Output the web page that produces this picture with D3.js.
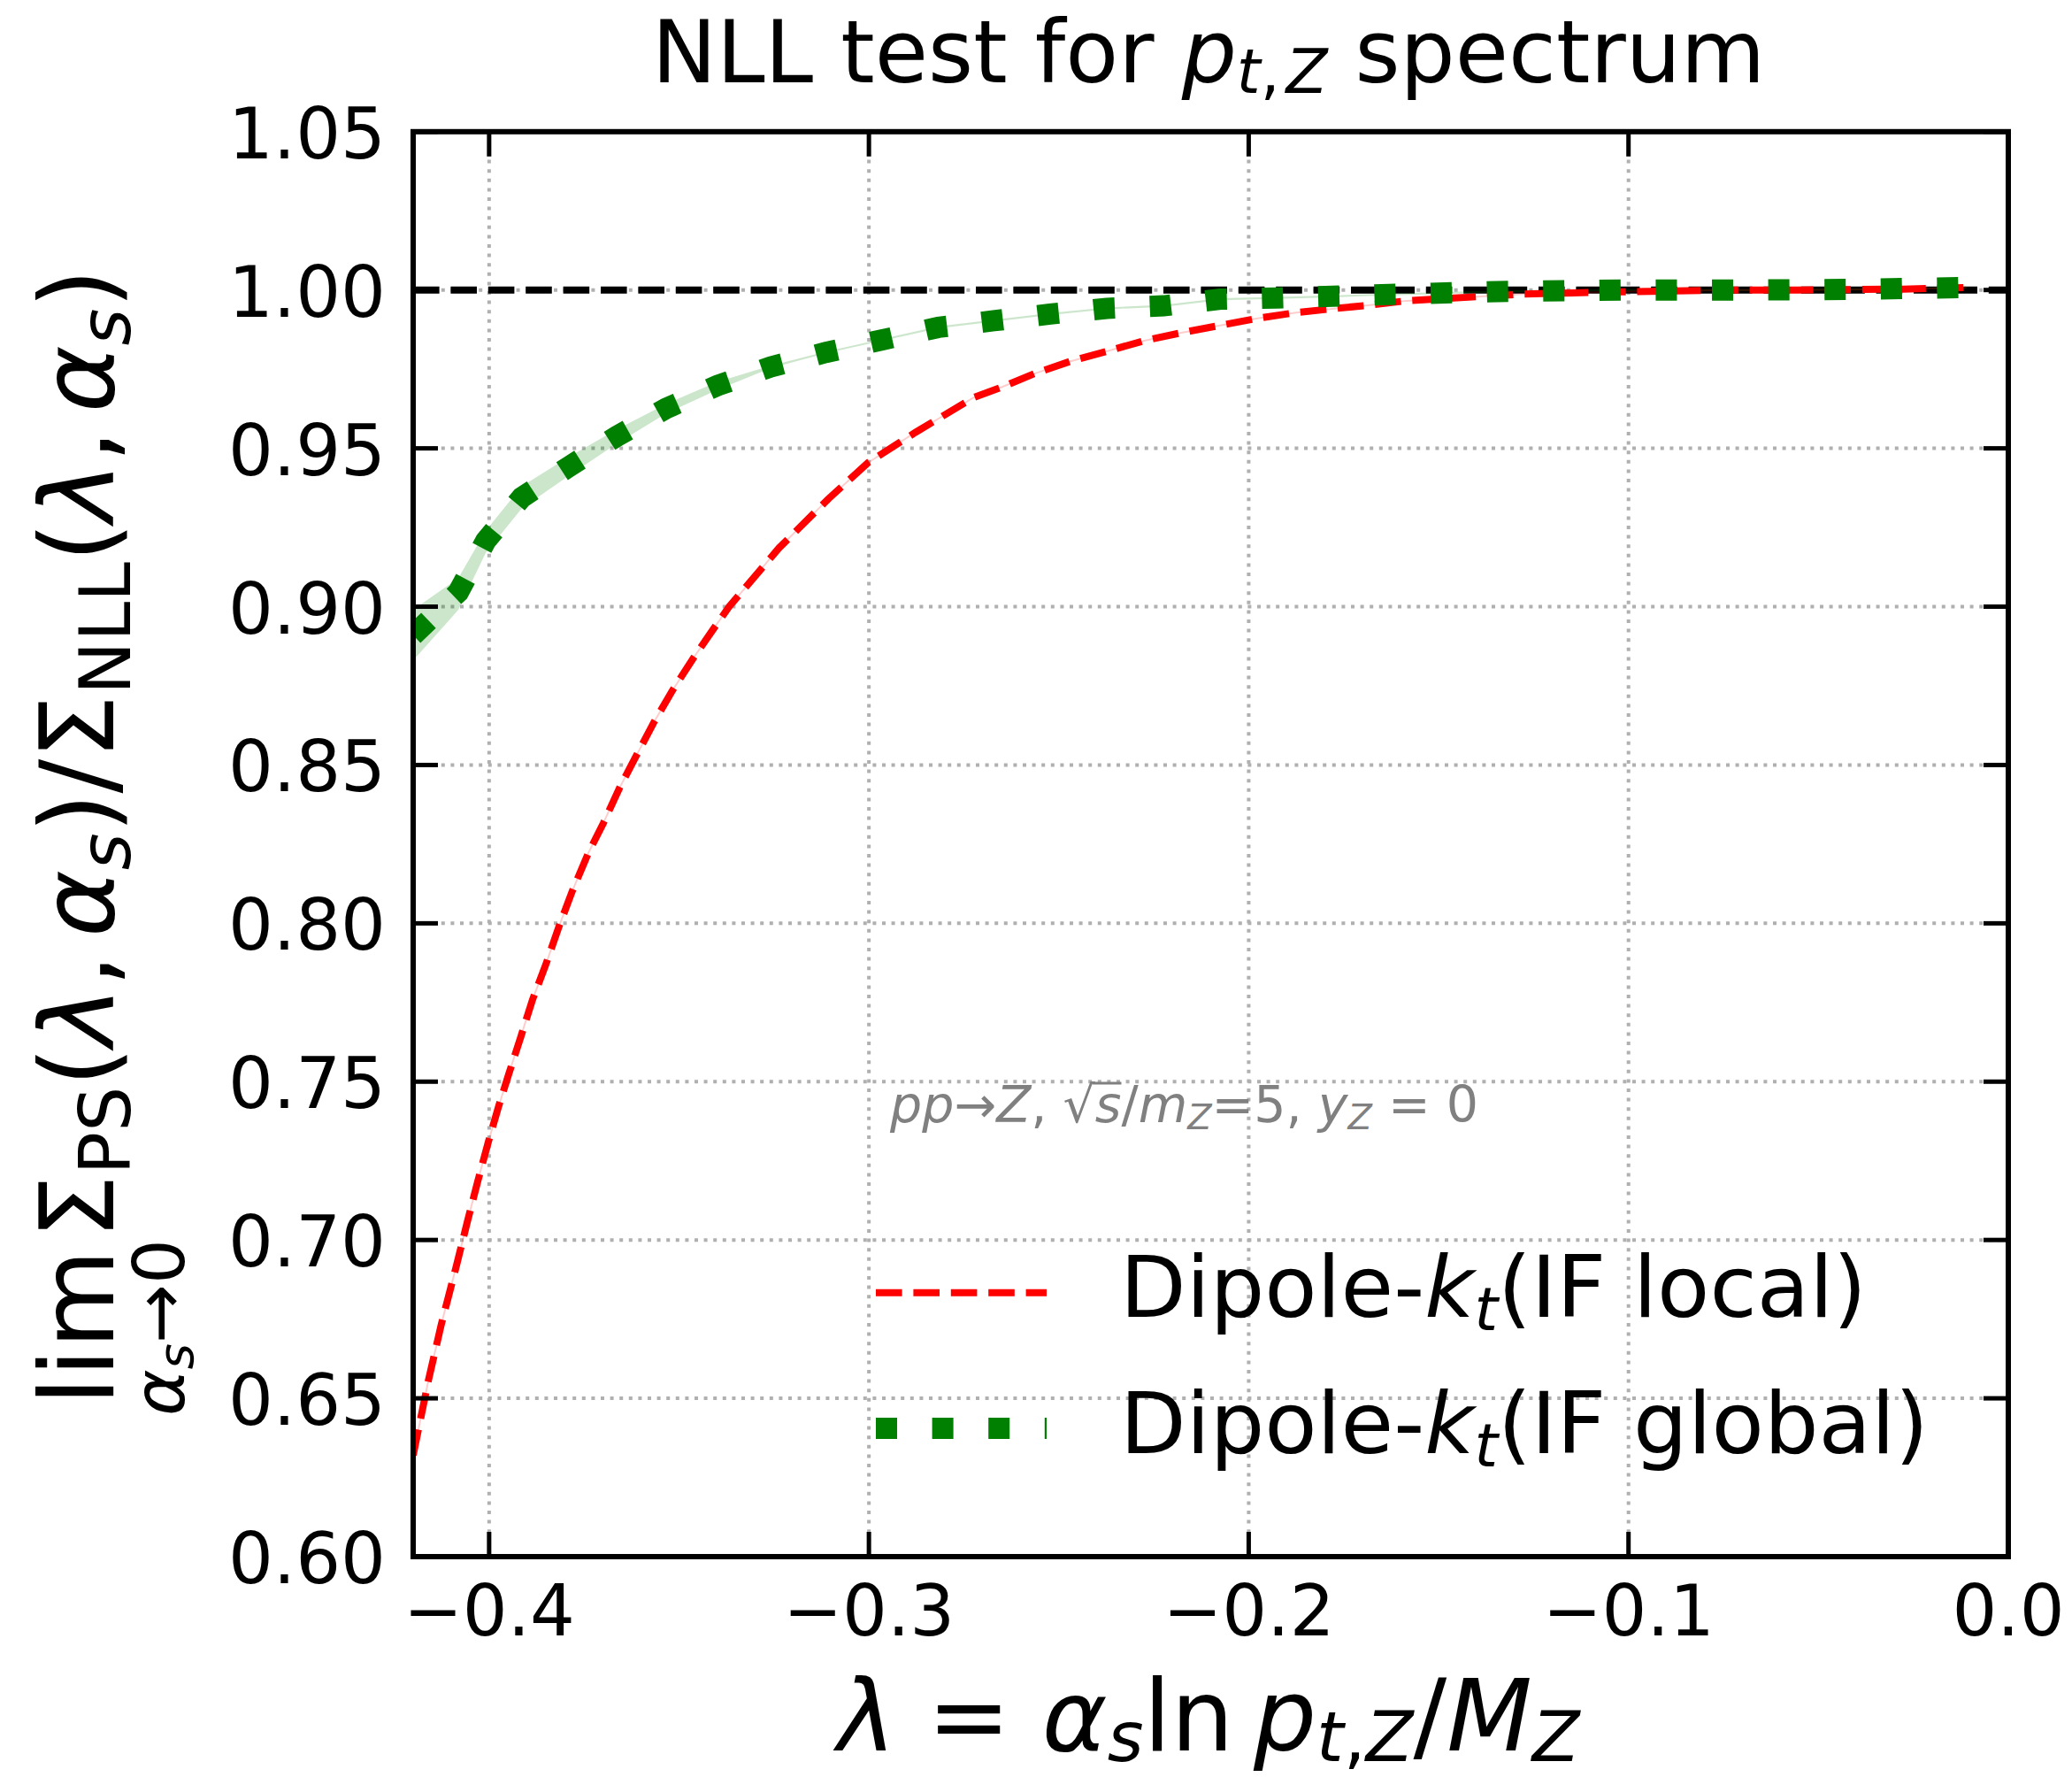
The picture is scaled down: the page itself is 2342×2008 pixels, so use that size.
<!DOCTYPE html>
<html>
<head>
<meta charset="utf-8">
<script src="https://cdn.jsdelivr.net/npm/d3@7"></script>
<style>
  body { margin: 0; background: #fff; }
  svg text { font-family: "DejaVu Sans", sans-serif; white-space: pre; }
</style>
</head>
<body>
<div id="chart"></div>
<script>
// NLL test for pt,Z spectrum - ratio PS / NLL vs lambda
const W = 2342, H = 2008;
const axL = 467, axR = 2270, axT = 148.8, axB = 1759;

// Dipole-kt (IF local)
const lambdaRed = [-0.42, -0.416, -0.4126, -0.4088, -0.4057, -0.403, -0.4002, -0.3975, -0.3948, -0.3917,
  -0.3886, -0.3851, -0.3816, -0.3781, -0.3738, -0.3699, -0.3656, -0.3614, -0.3567, -0.3517,
  -0.3462, -0.3408, -0.3368, -0.3237, -0.3107, -0.3002, -0.2878, -0.2725, -0.2655, -0.2562,
  -0.2469, -0.2372, -0.2275, -0.2177, -0.2081, -0.198, -0.1879, -0.1786, -0.1685, -0.1584,
  -0.128, -0.1041, -0.0879, -0.0736, -0.0583, -0.044, -0.0277, -0.011];
const sigmaRed = [0.632, 0.6556, 0.6733, 0.691, 0.7059, 0.7185, 0.731, 0.7422, 0.7525, 0.764,
  0.7758, 0.7869, 0.799, 0.8102, 0.8224, 0.8317, 0.8429, 0.8526, 0.8633, 0.8736,
  0.8838, 0.8932, 0.900, 0.9185, 0.934, 0.9455, 0.955, 0.966, 0.9691, 0.9737,
  0.9775, 0.9807, 0.984, 0.9865, 0.9887, 0.991, 0.9928, 0.994, 0.9952, 0.9966,
  0.9987, 0.9994, 0.9997, 1.0, 1.0, 1.0001, 1.0003, 1.0008];

// Dipole-kt (IF global) with its band
const lambdaGreen = [-0.42, -0.4081, -0.4009, -0.3914, -0.3794, -0.3664, -0.3534, -0.3399, -0.3259, -0.3113,
  -0.2967, -0.2817, -0.2671, -0.2523, -0.2374, -0.2224, -0.2075, -0.1927, -0.1779, -0.163,
  -0.1318, -0.1, -0.07, -0.04, -0.011];
const sigmaGreen = [0.891, 0.9046, 0.9208, 0.9345, 0.9439, 0.9538, 0.9626, 0.9698, 0.9757, 0.9803,
  0.9842, 0.9882, 0.9903, 0.9924, 0.9942, 0.995, 0.9971, 0.9975, 0.998, 0.9986,
  0.9996, 1.0, 1.0, 1.0002, 1.0008];
const greenLo = [0.883, 0.899, 0.917, 0.931, 0.941, 0.9515, 0.961, 0.9685, 0.9753, 0.98,
  0.9839, 0.9879, 0.99, 0.9921, 0.9939, 0.9947, 0.9968, 0.9972, 0.9977, 0.9983,
  0.9993, 0.9997, 0.9997, 0.9999, 1.0005];
const greenHi = [0.899, 0.909, 0.924, 0.938, 0.947, 0.956, 0.964, 0.971, 0.9761, 0.9806,
  0.9845, 0.9885, 0.9906, 0.9927, 0.9945, 0.9953, 0.9974, 0.9978, 0.9983, 0.9989,
  0.9999, 1.0003, 1.0003, 1.0005, 1.0011];

const xTicks = [-0.4, -0.3, -0.2, -0.1, 0.0];
const xTickLabels = ["\u22120.4", "\u22120.3", "\u22120.2", "\u22120.1", "0.0"];
const yTicks = [0.60, 0.65, 0.70, 0.75, 0.80, 0.85, 0.90, 0.95, 1.00, 1.05];
const yTickLabels = ["0.60", "0.65", "0.70", "0.75", "0.80", "0.85", "0.90", "0.95", "1.00", "1.05"];

const svg = d3.select("#chart").append("svg")
  .attr("width", W).attr("height", H)
  .style("display", "block");
svg.append("rect").attr("width", W).attr("height", H).attr("fill", "#fff");

const x = d3.scaleLinear().domain([-0.42, 0]).range([axL, axR]);
const y = d3.scaleLinear().domain([0.6, 1.05]).range([axB, axT]);

svg.append("clipPath").attr("id", "clip")
  .append("rect").attr("x", axL).attr("y", axT)
  .attr("width", axR - axL).attr("height", axB - axT);

// grid
const grid = svg.append("g").attr("clip-path", "url(#clip)");
grid.selectAll(".gx").data(xTicks).enter().append("line")
  .attr("x1", d => x(d)).attr("x2", d => x(d)).attr("y1", axT).attr("y2", axB)
  .attr("stroke", "#b0b0b0").attr("stroke-width", 4).attr("stroke-dasharray", "4,6.6");
grid.selectAll(".gy").data(yTicks).enter().append("line")
  .attr("y1", d => y(d)).attr("y2", d => y(d)).attr("x1", axL).attr("x2", axR)
  .attr("stroke", "#b0b0b0").attr("stroke-width", 4).attr("stroke-dasharray", "4,6.6");

const plot = svg.append("g").attr("clip-path", "url(#clip)");

// reference line at 1
plot.append("line")
  .attr("x1", x(-0.42)).attr("x2", x(0)).attr("y1", y(1)).attr("y2", y(1))
  .attr("stroke", "#000").attr("stroke-width", 8).attr("stroke-dasharray", "29.6,12.8");

const redData = lambdaRed.map((l, i) => [l, sigmaRed[i]]);
const greenData = lambdaGreen.map((l, i) => ({ l: l, v: sigmaGreen[i], lo: greenLo[i], hi: greenHi[i] }));

const line = d3.line().x(d => x(d[0])).y(d => y(d[1]));

// bands
plot.append("path")
  .datum(greenData)
  .attr("fill", "rgba(0,128,0,0.2)")
  .attr("d", d3.area().x(d => x(d.l)).y0(d => y(d.lo)).y1(d => y(d.hi)));
plot.append("path")
  .datum(redData)
  .attr("fill", "none").attr("stroke", "rgba(255,0,0,0.2)").attr("stroke-width", 2)
  .attr("d", line);

// curves
plot.append("path")
  .datum(redData)
  .attr("fill", "none").attr("stroke", "#ff0000").attr("stroke-width", 8)
  .attr("stroke-dasharray", "29.6,12.8")
  .attr("d", line);
plot.append("path")
  .datum(greenData.map(d => [d.l, d.v]))
  .attr("fill", "none").attr("stroke", "#008000").attr("stroke-width", 24)
  .attr("stroke-dasharray", "24,39.6")
  .attr("d", line);

// spines
svg.append("rect")
  .attr("x", axL).attr("y", axT).attr("width", axR - axL).attr("height", axB - axT)
  .attr("fill", "none").attr("stroke", "#000").attr("stroke-width", 6);

// ticks, inward on all four sides
const tickLen = 28;
const tk = svg.append("g").attr("stroke", "#000").attr("stroke-width", 5);
xTicks.forEach(t => {
  tk.append("line").attr("x1", x(t)).attr("x2", x(t)).attr("y1", axB).attr("y2", axB - tickLen);
  tk.append("line").attr("x1", x(t)).attr("x2", x(t)).attr("y1", axT).attr("y2", axT + tickLen);
});
yTicks.forEach(t => {
  tk.append("line").attr("y1", y(t)).attr("y2", y(t)).attr("x1", axL).attr("x2", axL + tickLen);
  tk.append("line").attr("y1", y(t)).attr("y2", y(t)).attr("x1", axR).attr("x2", axR - tickLen);
});

svg.selectAll(".xl").data(xTicks).enter().append("text")
  .attr("x", d => x(d)).attr("y", 1848)
  .attr("text-anchor", "middle").attr("font-size", 80)
  .text((d, i) => xTickLabels[i]);
svg.selectAll(".yl").data(yTicks).enter().append("text")
  .attr("x", 436).attr("y", d => y(d) + 30)
  .attr("text-anchor", "end").attr("font-size", 80)
  .text((d, i) => yTickLabels[i]);

// rich text helper: parts {t, i (italic), sub}
function rich(sel, parts, size, shift) {
  let cur = 0;
  parts.forEach(p => {
    const target = p.sub ? shift : 0;
    const ts = sel.append("tspan").text(p.t);
    if (target !== cur) { ts.attr("dy", target - cur); cur = target; }
    if (p.i) ts.attr("font-style", "italic");
    if (p.sub) ts.attr("font-size", size * 0.7);
  });
  return sel;
}

// title
rich(svg.append("text").attr("x", 1366).attr("y", 93).attr("text-anchor", "middle").attr("font-size", 98),
  [{ t: "NLL test for " }, { t: "p", i: true }, { t: "t", i: true, sub: true }, { t: ",\u200a", sub: true },
   { t: "Z", i: true, sub: true }, { t: " spectrum" }], 98, 12);

// x label
rich(svg.append("text").attr("x", 1366).attr("y", 1978).attr("text-anchor", "middle").attr("font-size", 112),
  [{ t: "\u03bb", i: true }, { t: " = " }, { t: "\u03b1", i: true }, { t: "s", i: true, sub: true },
   { t: "ln\u2009" }, { t: "p", i: true }, { t: "t", i: true, sub: true }, { t: ",", sub: true },
   { t: "Z", i: true, sub: true }, { t: "/" }, { t: "M", i: true }, { t: "Z", i: true, sub: true }], 112, 12);

// y label (rotated)
const yl = svg.append("g").attr("transform", "translate(128,0) rotate(-90)");
const limT = yl.append("text").attr("x", -1588).attr("y", 0).attr("font-size", 115).text("lim");
const limW = limT.node().getComputedTextLength();
rich(yl.append("text").attr("x", -1588 + limW / 2).attr("y", 80).attr("text-anchor", "middle").attr("font-size", 80),
  [{ t: "\u03b1", i: true }, { t: "s", i: true, sub: true }, { t: "\u21920" }], 80, 10);
rich(yl.append("text").attr("x", -1588 + limW + 12).attr("y", 0).attr("font-size", 115),
  [{ t: "\u03a3" }, { t: "PS", sub: true }, { t: "(" }, { t: "\u03bb", i: true }, { t: ",\u2006" },
   { t: "\u03b1", i: true }, { t: "s", i: true, sub: true }, { t: ")/\u03a3" }, { t: "NLL", sub: true },
   { t: "(" }, { t: "\u03bb", i: true }, { t: ",\u2006" }, { t: "\u03b1", i: true }, { t: "s", i: true, sub: true },
   { t: ")" }], 115, 19);

// annotation
const ann = svg.append("text").attr("x", 1006).attr("y", 1268).attr("font-size", 57).attr("fill", "#808080");
rich(ann, [{ t: "pp", i: true }, { t: "\u2192" }, { t: "Z", i: true }, { t: ", \u221a" }, { t: "s", i: true },
  { t: "/" }, { t: "m", i: true }, { t: "Z", i: true, sub: true }, { t: "=5, " }, { t: "y", i: true },
  { t: "Z", i: true, sub: true }, { t: " = 0" }], 57, 8);
// vinculum over s
const sIdx = "pp\u2192Z, \u221a".length;
const ext = ann.node().getExtentOfChar(sIdx);
const rad = ann.node().getExtentOfChar(sIdx - 1);
svg.append("line")
  .attr("x1", rad.x + rad.width - 3).attr("x2", ext.x + ext.width)
  .attr("y1", 1224).attr("y2", 1224)
  .attr("stroke", "#808080").attr("stroke-width", 3);

// legend
const legend = [
  { color: "#ff0000", w: 8, dash: "29.6,12.8", y: 1460.7 },
  { color: "#008000", w: 24, dash: "24,39.6", y: 1614 }
];
legend.forEach((d, k) => {
  svg.append("line").attr("x1", 990).attr("x2", 1183).attr("y1", d.y).attr("y2", d.y)
    .attr("stroke", d.color).attr("stroke-width", d.w).attr("stroke-dasharray", d.dash);
  rich(svg.append("text").attr("x", 1266).attr("y", d.y + 27.5).attr("font-size", 97),
    [{ t: "Dipole-" }, { t: "k", i: true }, { t: "t", i: true, sub: true },
     { t: k === 0 ? "(IF local)" : "(IF global)" }], 97, 15);
});
</script>
</body>
</html>
